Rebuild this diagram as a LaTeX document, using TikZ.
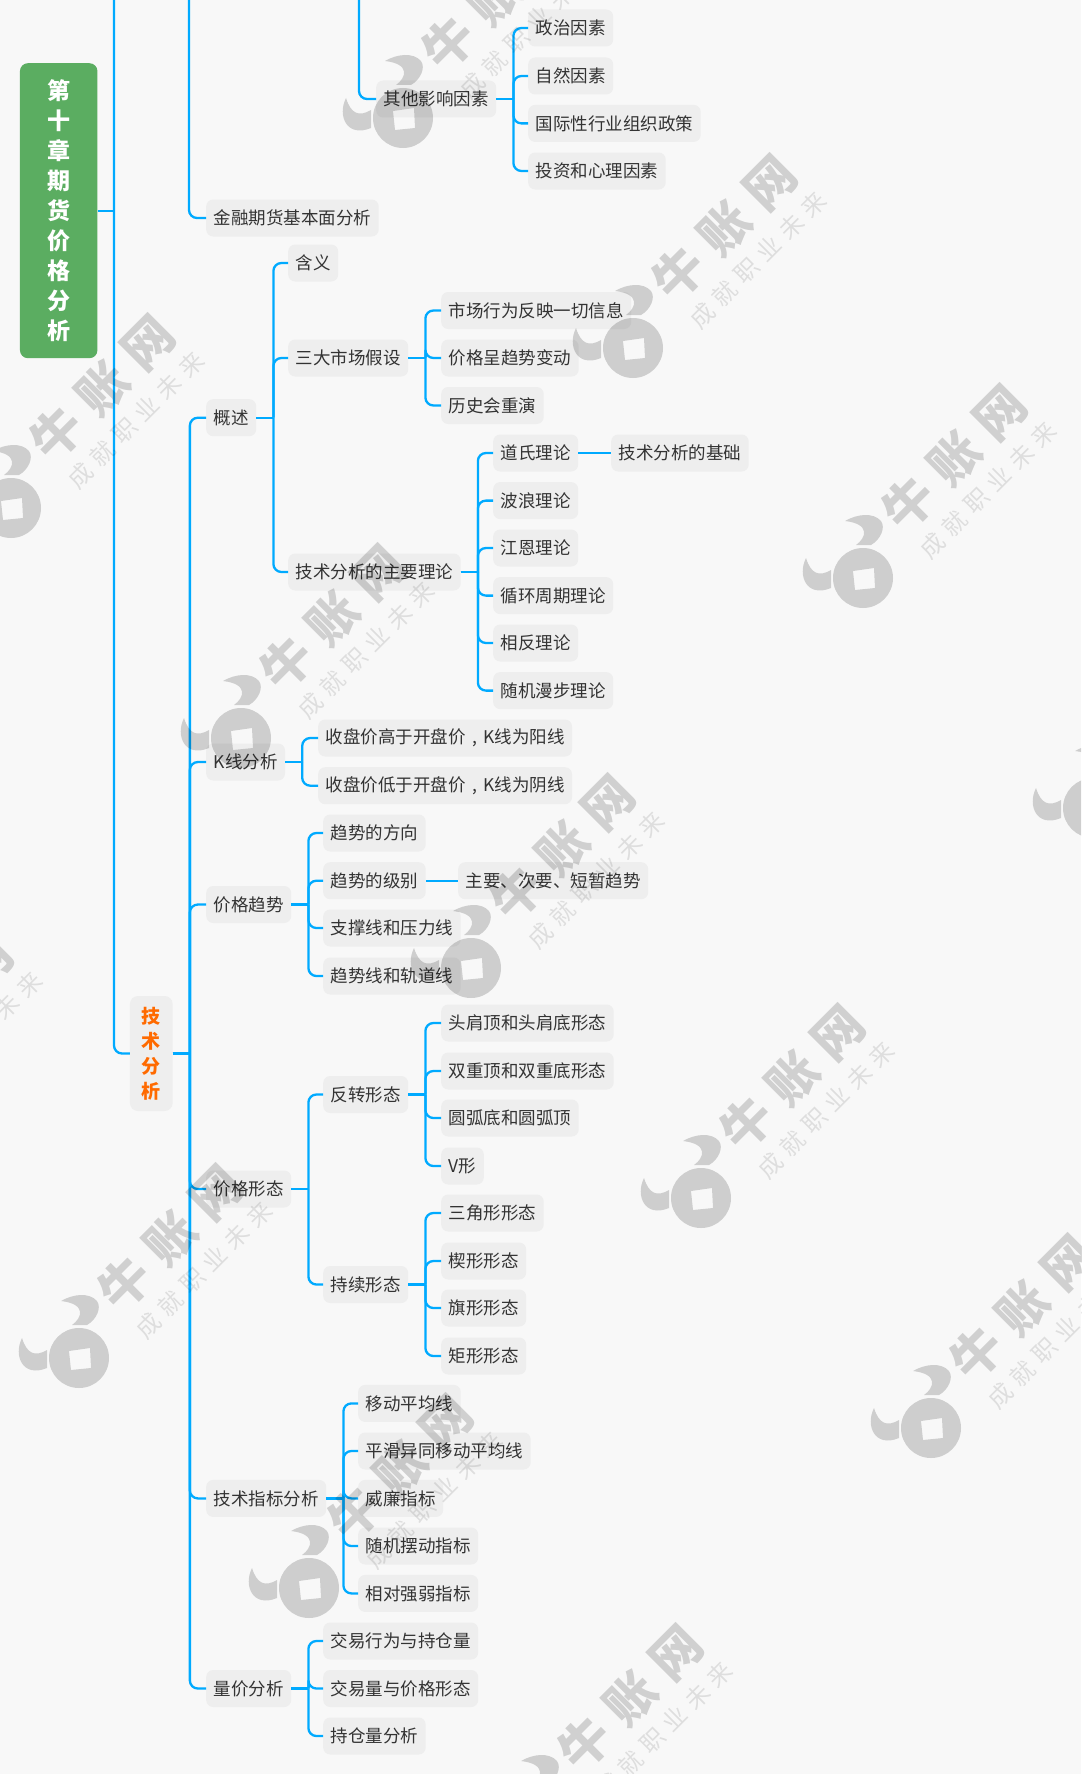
\documentclass[tikz,border=0pt]{standalone}
\usepackage{fontspec}
\setmainfont{Noto Sans CJK SC}
\definecolor{pagebg}{HTML}{F8F8F8}
\definecolor{nodebg}{HTML}{EEEEEE}
\definecolor{linkblue}{HTML}{00AAFF}
\definecolor{rootgreen}{HTML}{5BAD61}
\definecolor{sumorange}{HTML}{FF6A00}
\tikzset{
  mapnode/.style={fill=nodebg, rounded corners=7pt, anchor=west, inner xsep=7.5pt, inner ysep=0pt, minimum height=37pt, text=black!80, font=\fontsize{17.5}{20}\selectfont},
  rootbox/.style={fill=rootgreen, rounded corners=8pt, inner sep=0pt, minimum width=77.5pt, minimum height=295pt, align=center, text=white, font=\fontsize{23}{30}\selectfont\bfseries},
  sumbox/.style={fill=nodebg, rounded corners=8pt, inner sep=0pt, minimum width=42.7pt, minimum height=115pt, align=center, text=sumorange, font=\fontsize{19}{25}\selectfont\bfseries},
  linkline/.style={draw=linkblue, line width=2.3pt, rounded corners=8pt},
  markshape/.style={fill=black, fill opacity=0.17, draw=none},
  bigmark/.style={text=black, text opacity=0.16, rotate=45, inner sep=0pt, font=\fontsize{50}{50}\selectfont\bfseries\addfontfeature{LetterSpace=29}},
  smallmark/.style={text=black, text opacity=0.10, rotate=45, inner sep=0pt, font=\fontsize{24}{24}\selectfont\addfontfeature{LetterSpace=30}}
}
\newcommand{\linkdraw}[2]{\draw[linkline] (#1.east) -- ++(17,0); \draw[linkline] (#1.east) ++(17,0) |- (#2.west)}
\newcommand{\midcomma}{\makebox[17.5pt][c]{,}}
\newcommand{\wmark}[2]{
  \begin{scope}[shift={(#1,#2)}]
    \fill[markshape, even odd rule] (0,0) circle (30) (-10,-7) -- (11,-10) -- (12,10) -- (-8,12) -- cycle;
    \fill[markshape] (-57,-20) .. controls (-66,-2) and (-56,20) .. (-32,10) -- (-32,-8) .. controls (-44,-1) and (-52,-4) .. (-57,-20) -- cycle;
    \fill[markshape] (-18,-57) .. controls (-6,-64) and (10,-66) .. (18,-57) .. controls (23,-50) and (17,-38) .. (8,-33) -- (-7,-33) .. controls (3,-40) and (8,-54) .. (-18,-57) -- cycle;
    \node[bigmark] at (91.5,-120) {牛账网};
    \node[smallmark] at (125,-88) {成就职业未来};
  \end{scope}
}

\begin{document}
\begin{tikzpicture}[x=1pt, y=-1pt]
  \useasboundingbox (0,0) rectangle (1081,1774);
  \clip (0,0) rectangle (1081,1774);
  \fill[pagebg] (0,0) rectangle (1081,1774);

  \coordinate (upa) at (114,-30);
  \coordinate (upb) at (189,-30);
  \coordinate (upc) at (359,-30);

  \node[rootbox] (root) at (58.7,210.7) {第\\十\\章\\期\\货\\价\\格\\分\\析};
  \node[sumbox] (tech) at (151.3,1053.5) {技\\术\\分\\析};

  % upper branch
  \node[mapnode] (other) at (376,99) {其他影响因素};
  \node[mapnode] (pol) at (528,28) {政治因素};
  \node[mapnode] (nat) at (528,76) {自然因素};
  \node[mapnode] (intl) at (528,123.4) {国际性行业组织政策};
  \node[mapnode] (psy) at (528,171) {投资和心理因素};
  \node[mapnode] (fin) at (206,218) {金融期货基本面分析};

  % overview
  \node[mapnode] (view) at (206,417.7) {概述};
  \node[mapnode] (mean) at (288,263) {含义};
  \node[mapnode] (hypo) at (288,358) {三大市场假设};
  \node[mapnode] (hypa) at (441,310.5) {市场行为反映一切信息};
  \node[mapnode] (hypb) at (441,358) {价格呈趋势变动};
  \node[mapnode] (hypc) at (441,405.5) {历史会重演};
  \node[mapnode] (theo) at (288,572) {技术分析的主要理论};
  \node[mapnode] (dow) at (493,453) {道氏理论};
  \node[mapnode] (base) at (611,453) {技术分析的基础};
  \node[mapnode] (wave) at (493,500.6) {波浪理论};
  \node[mapnode] (gann) at (493,548) {江恩理论};
  \node[mapnode] (cyc) at (493,595.6) {循环周期理论};
  \node[mapnode] (cont) at (493,643) {相反理论};
  \node[mapnode] (rand) at (493,690.6) {随机漫步理论};

  % candlestick
  \node[mapnode] (kline) at (206,762) {K线分析};
  \node[mapnode] (kup) at (318,738) {收盘价高于开盘价\midcomma K线为阳线};
  \node[mapnode] (kdn) at (318,785.7) {收盘价低于开盘价\midcomma K线为阴线};

  % trend
  \node[mapnode] (trend) at (206,904.5) {价格趋势};
  \node[mapnode] (tdir) at (323,833) {趋势的方向};
  \node[mapnode] (tlev) at (323,880.7) {趋势的级别};
  \node[mapnode] (tmaj) at (458,880.7) {主要、次要、短暂趋势};
  \node[mapnode] (tsup) at (323,928) {支撑线和压力线};
  \node[mapnode] (tcha) at (323,976) {趋势线和轨道线};

  % patterns
  \node[mapnode] (form) at (206,1189) {价格形态};
  \node[mapnode] (rev) at (323,1094.5) {反转形态};
  \node[mapnode] (hs) at (441,1023) {头肩顶和头肩底形态};
  \node[mapnode] (dbl) at (441,1071) {双重顶和双重底形态};
  \node[mapnode] (arc) at (441,1118) {圆弧底和圆弧顶};
  \node[mapnode] (vee) at (441,1166) {V形};
  \node[mapnode] (per) at (323,1284.5) {持续形态};
  \node[mapnode] (tri) at (441,1213) {三角形形态};
  \node[mapnode] (wed) at (441,1261) {楔形形态};
  \node[mapnode] (flag) at (441,1308) {旗形形态};
  \node[mapnode] (rect) at (441,1356) {矩形形态};

  % indicators
  \node[mapnode] (ind) at (206,1498.4) {技术指标分析};
  \node[mapnode] (ma) at (358,1403.4) {移动平均线};
  \node[mapnode] (macd) at (358,1451) {平滑异同移动平均线};
  \node[mapnode] (wr) at (358,1498.4) {威廉指标};
  \node[mapnode] (kdj) at (358,1546) {随机摆动指标};
  \node[mapnode] (rsi) at (358,1593.4) {相对强弱指标};

  % volume
  \node[mapnode] (vol) at (206,1688.5) {量价分析};
  \node[mapnode] (va) at (323,1641) {交易行为与持仓量};
  \node[mapnode] (vb) at (323,1688.5) {交易量与价格形态};
  \node[mapnode] (vc) at (323,1736) {持仓量分析};

  \draw[linkline] (root.east) -- (root.east -| upa);
  \draw[linkline] (upa) |- (tech.west);
  \draw[linkline] (upb) |- (fin.west);
  \draw[linkline] (upc) |- (other.west);

  \linkdraw{other}{pol};
  \linkdraw{other}{nat};
  \linkdraw{other}{intl};
  \linkdraw{other}{psy};

  \linkdraw{tech}{view};
  \linkdraw{tech}{kline};
  \linkdraw{tech}{trend};
  \linkdraw{tech}{form};
  \linkdraw{tech}{ind};
  \linkdraw{tech}{vol};

  \linkdraw{view}{mean};
  \linkdraw{view}{hypo};
  \linkdraw{view}{theo};
  \linkdraw{hypo}{hypa};
  \linkdraw{hypo}{hypb};
  \linkdraw{hypo}{hypc};
  \linkdraw{theo}{dow};
  \linkdraw{theo}{wave};
  \linkdraw{theo}{gann};
  \linkdraw{theo}{cyc};
  \linkdraw{theo}{cont};
  \linkdraw{theo}{rand};
  \draw[linkline] (dow) -- (base);

  \linkdraw{kline}{kup};
  \linkdraw{kline}{kdn};

  \linkdraw{trend}{tdir};
  \linkdraw{trend}{tlev};
  \linkdraw{trend}{tsup};
  \linkdraw{trend}{tcha};
  \draw[linkline] (tlev) -- (tmaj);

  \linkdraw{form}{rev};
  \linkdraw{form}{per};
  \linkdraw{rev}{hs};
  \linkdraw{rev}{dbl};
  \linkdraw{rev}{arc};
  \linkdraw{rev}{vee};
  \linkdraw{per}{tri};
  \linkdraw{per}{wed};
  \linkdraw{per}{flag};
  \linkdraw{per}{rect};

  \linkdraw{ind}{ma};
  \linkdraw{ind}{macd};
  \linkdraw{ind}{wr};
  \linkdraw{ind}{kdj};
  \linkdraw{ind}{rsi};

  \linkdraw{vol}{va};
  \linkdraw{vol}{vb};
  \linkdraw{vol}{vc};

  % watermark
  \foreach \wx/\wy in {403/118, 633/348, 863/578, 1093/808, 11/508, 241/738, 471/968, 701/1198, 931/1428, -151/1128, 79/1358, 309/1588, 539/1818}
    {\wmark{\wx}{\wy}}
\end{tikzpicture}
\end{document}
